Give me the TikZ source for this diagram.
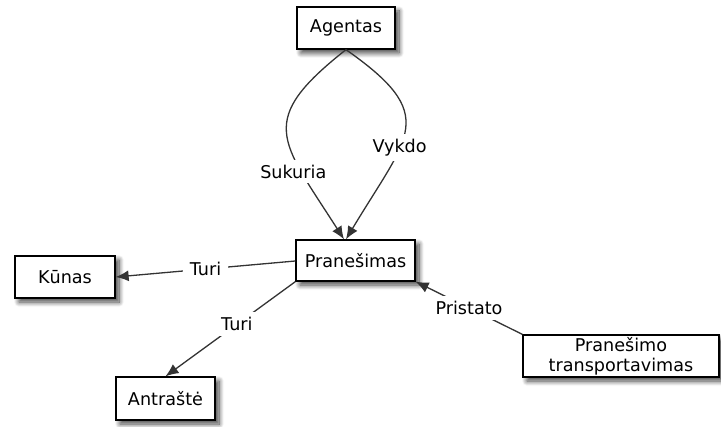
\documentclass[tikz,border=0pt]{standalone}
\usepackage{fontspec}
\setmainfont{DejaVu Sans}
\usetikzlibrary{arrows.meta,shadows.blur}

\tikzset{
  concept/.style={draw=black, line width=1.3pt, fill=white, inner sep=0pt,
    minimum height=42pt, align=center,
    font=\fontsize{17.6}{22}\selectfont,
    blur shadow={shadow xshift=4pt, shadow yshift=-4pt,
      shadow blur radius=5pt, shadow blur steps=10, shadow opacity=75}},
  relation/.style={draw=black!80, line width=1.3pt,
    -{Latex[length=13pt,width=11pt]}},
  rellabel/.style={fill=white, inner xsep=7pt, inner ysep=5pt,
    font=\fontsize{17.6}{22}\selectfont}
}

\begin{document}
\begin{tikzpicture}[x=1pt, y=-1pt]
  \useasboundingbox (0,0) rectangle (721,427);

  % concepts
  \node[concept, minimum width=98pt]  (agentas)   at (346,28)    {Agentas};
  \node[concept, minimum width=119pt, minimum height=41pt] (pran) at (355.5,260.5) {Pranešimas};
  \node[concept, minimum width=100pt] (kunas)     at (65,277)    {Kūnas};
  \node[concept, minimum width=99pt, minimum height=43pt] (antraste) at (165.5,398.5) {Antraštė};
  \node[concept, minimum width=196pt, font=\fontsize{17.6}{20}\selectfont]
                                      (transport) at (621,356)   {Pranešimo\\transportavimas};

  % relations
  \draw[relation] (agentas.south) .. controls +(-90,71) and +(-64,-100) .. ([xshift=-11.5pt]pran.north)
    node[rellabel, pos=0.72, xshift=-8pt] {Sukuria};
  \draw[relation] (agentas.south) .. controls +(94,66) and +(63,-105) .. ([xshift=-9.5pt]pran.north)
    node[rellabel, pos=0.61] {Vykdo};
  \draw[relation] ([yshift=-0.5pt]pran.west) -- (kunas.east)
    node[rellabel, pos=0.5] {Turi};
  \draw[relation] (pran.south west) -- (antraste.north)
    node[rellabel, pos=0.45] {Turi};
  \draw[relation] (transport.north west) -- (pran.south east)
    node[rellabel, pos=0.5] {Pristato};
\end{tikzpicture}
\end{document}
